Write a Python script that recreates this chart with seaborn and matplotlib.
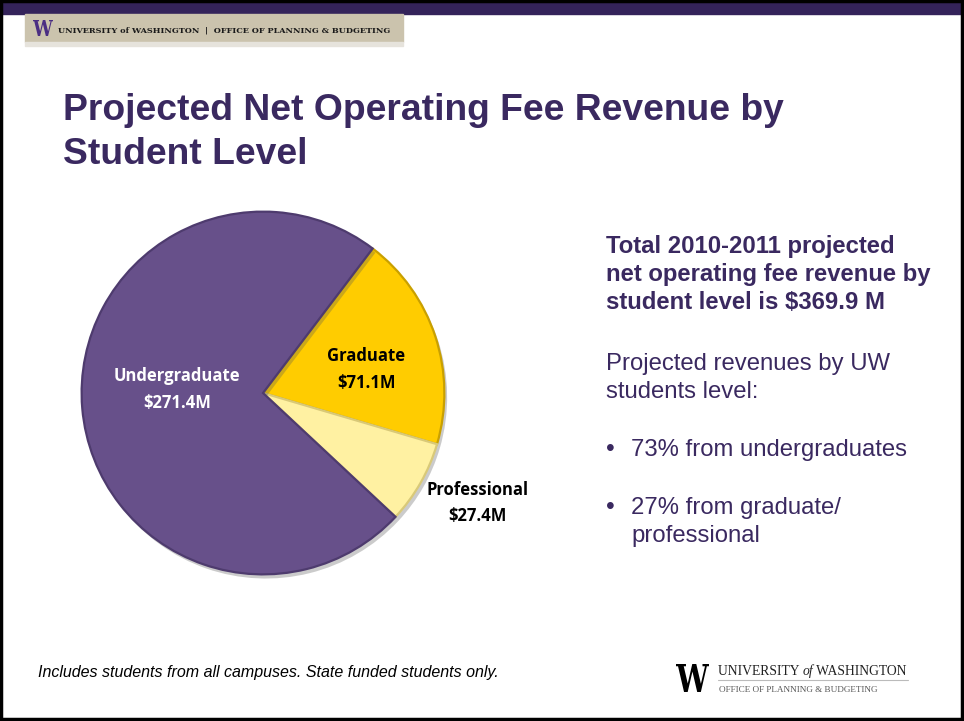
import numpy as np
import matplotlib
matplotlib.use("Agg")
import matplotlib.pyplot as plt
import matplotlib.patheffects as pe
from matplotlib.patches import Rectangle, PathPatch
from matplotlib.textpath import TextPath
from matplotlib.font_manager import FontProperties
from matplotlib.transforms import Affine2D
import seaborn as sns

# Revenue by student level, 2010-2011 (millions of dollars)
levels = ["Graduate", "Professional", "Undergraduate"]
revenue_m = [71.1, 27.4, 271.4]
slice_colors = ["#FFCC00", "#FFF1A2", "#67508A"]
label_colors = ["black", "black", "white"]

title_lines = ["Projected Net Operating Fee Revenue by", "Student Level"]
summary_lines = ["Total 2010-2011 projected", "net operating fee revenue by",
                 "student level is $369.9 M"]
intro_lines = ["Projected revenues by UW", "students level:"]
bullet_items = [["73% from undergraduates"], ["27% from graduate/", "professional"]]
footnote = "Includes students from all campuses. State funded students only."

W, H = 964, 721
sns.set_theme(style="white")
plt.rcParams["font.family"] = ["Liberation Sans", "DejaVu Sans"]

fig = plt.figure(figsize=(W / 100, H / 100), dpi=100)
fig.patch.set_facecolor("white")

def fx(x):
    return x / W

def fy(y):
    return 1 - y / H

# slide frame and top banner (pixel coordinates, y downwards)
frame = fig.add_axes([0, 0, 1, 1])
frame.set_xlim(0, W)
frame.set_ylim(H, 0)
frame.axis("off")
frame.add_patch(Rectangle((0, 0), W, 14, color="#34235A", zorder=1))
frame.add_patch(Rectangle((1, 1), W - 3, H - 3, fill=False, ec="black", lw=2.5, zorder=5))
frame.add_patch(Rectangle((25, 14), 378, 28, color="#CBC3AD", zorder=1))
frame.add_patch(Rectangle((25, 42), 378, 4, color="#E6E3DC", zorder=1))


def glyph_in_box(ax, char, x0, y0, x1, y1, color, family="DejaVu Serif"):
    """Draw a single glyph stretched to fill a pixel box."""
    tp = TextPath((0, 0), char, size=10, prop=FontProperties(family=family, weight="bold"))
    ext = tp.get_extents()
    sx = (x1 - x0) / ext.width
    sy = (y1 - y0) / ext.height
    tr = Affine2D().translate(-ext.x0, -ext.y0).scale(sx, -sy).translate(x0, y1)
    path = tr.transform_path(tp)
    ax.add_patch(PathPatch(path, fc=color, ec="none", zorder=3))


glyph_in_box(frame, "W", 33, 20, 53, 36, "#4B2E83")
frame.text(58, 33, "UNIVERSITY of WASHINGTON  |  OFFICE OF PLANNING & BUDGETING",
           fontsize=5.9, fontweight="heavy", color="#1a1a1a", family="DejaVu Serif",
           va="baseline", zorder=2)

# title
purple_text = "#3A2960"
for i, line in enumerate(title_lines):
    fig.text(fx(63), fy(120 + 44 * i), line, fontsize=26.8, fontweight="bold",
             color=purple_text, va="baseline", ha="left")

# pie chart
cx, cy, r = 263, 393, 185
ax = fig.add_axes([fx(cx - r), fy(cy + r), 2 * r / W, 2 * r / H])
wedges, _ = ax.pie(revenue_m, colors=slice_colors, startangle=52.8, counterclock=False,
                   radius=1.0, wedgeprops=dict(linewidth=1.6))
edge_cols = ["#C9A000", "#D9C978", "#4E3B6E"]
for w, ec in zip(wedges, edge_cols):
    w.set_edgecolor(ec)
    w.set_path_effects([pe.SimplePatchShadow(offset=(2, -3), alpha=0.3, shadow_rgbFace="#555555"),
                        pe.Normal()])
ax.set_xlim(-1.02, 1.02)
ax.set_ylim(-1.02, 1.02)
ax.set_aspect("equal")
ax.axis("off")

# label anchors in pie radius units
label_anchor = [(0.57, 0.13), (1.185, -0.607), (-0.475, 0.02)]
for (lx, ly), name, val, col in zip(label_anchor, levels, revenue_m, label_colors):
    ax.text(lx, ly, f"{name}\n${val:.1f}M", ha="center", va="center", color=col,
            fontsize=12, fontweight="bold", family=["Open Sans", "DejaVu Sans"],
            linespacing=1.62)

# summary text on the right
for i, line in enumerate(summary_lines):
    fig.text(fx(606), fy(253 + 28 * i), line, fontsize=17.2, fontweight="bold",
             color=purple_text, va="baseline")
for i, line in enumerate(intro_lines):
    fig.text(fx(606), fy(370 + 28 * i), line, fontsize=17.2, color=purple_text,
             va="baseline")
base = 456
for item in bullet_items:
    fig.text(fx(606), fy(base), "\u2022", fontsize=18, color=purple_text, va="baseline")
    for j, line in enumerate(item):
        fig.text(fx(631), fy(base + 28 * j), line, fontsize=17.2, color=purple_text,
                 va="baseline")
    base += 58

# footnote
fig.text(fx(38), fy(677), footnote, fontsize=11.5, style="italic", color="black",
         va="baseline")

# bottom-right wordmark
glyph_in_box(frame, "W", 676, 664, 709, 692, "black")
fig.canvas.draw()
renderer = fig.canvas.get_renderer()
x = 718
for part, st in [("UNIVERSITY ", "normal"), ("of", "italic"), (" WASHINGTON", "normal")]:
    t = frame.text(x, 675, part, fontsize=9.8, family="Liberation Serif", style=st,
                   color="#222222", va="baseline")
    bb = t.get_window_extent(renderer)
    x += bb.width
frame.plot([718, 908], [680, 680], color="#BBBBBB", lw=0.8)
frame.text(719, 692, "OFFICE OF PLANNING & BUDGETING", fontsize=6.6,
           family="Liberation Serif", color="#555555", va="baseline")

fig.savefig("out.png", dpi=100, facecolor="white")
